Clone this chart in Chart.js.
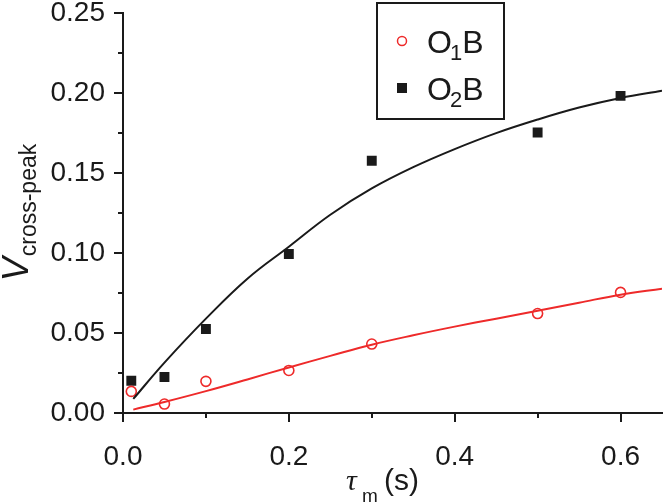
<!DOCTYPE html>
<html>
<head>
<meta charset="utf-8">
<script src="https://cdn.jsdelivr.net/npm/chart.js@4.4.1/dist/chart.umd.min.js"></script>
<style>
  html, body { margin: 0; padding: 0; background: #fff; }
</style>
</head>
<body>
<canvas id="chart" width="669" height="504"></canvas>
<script>
// measured points
const tau = [0.01, 0.05, 0.1, 0.2, 0.3, 0.5, 0.6];
const o1b = [0.0135, 0.0056, 0.0198, 0.0266, 0.0431, 0.0622, 0.0754];
const o2b = [0.0202, 0.0225, 0.0525, 0.0994, 0.1577, 0.1754, 0.1983];

// fit curves
const fitTau = [0.0124, 0.05, 0.1, 0.15, 0.2, 0.25, 0.3, 0.35, 0.4, 0.45, 0.5, 0.55, 0.6, 0.65];
const fitO1b = [0.0021, 0.0069, 0.0137, 0.021, 0.0285, 0.0357, 0.0427, 0.0486, 0.054, 0.059, 0.064, 0.069, 0.074, 0.0777];
const fitO2b = [0.0088, 0.0315, 0.059, 0.084, 0.104, 0.124, 0.1404, 0.1537, 0.165, 0.175, 0.1835, 0.191, 0.197, 0.2015];

const xMajor = [0, 0.2, 0.4, 0.6];
const xMinor = [0.1, 0.3, 0.5];
const yMajor = [0, 0.05, 0.1, 0.15, 0.2, 0.25];
const yMinor = [0.025, 0.075, 0.125, 0.175, 0.225];

const RED = "#ee2a2a";
const INK = "#1a1a1a";
const SANS = "'Liberation Sans', Arial, sans-serif";

const pts = (xs, ys) => xs.map((x, i) => ({ x: x, y: ys[i] }));

// ticks, axis titles and legend box
const decor = {
  id: "decor",
  afterDraw(chart) {
    const ctx = chart.ctx;
    const xs = chart.scales.x, ys = chart.scales.y;
    const left = chart.chartArea.left, bottom = chart.chartArea.bottom;
    ctx.save();
    ctx.strokeStyle = INK;
    ctx.lineWidth = 2;
    ctx.beginPath();
    xMajor.concat(xMinor).forEach(function (v) {
      const px = Math.round(xs.getPixelForValue(v));
      const len = xMajor.includes(v) ? 9 : 5;
      ctx.moveTo(px, bottom);
      ctx.lineTo(px, bottom + len);
    });
    yMajor.concat(yMinor).forEach(function (v) {
      const py = Math.round(ys.getPixelForValue(v));
      const len = yMajor.includes(v) ? 9 : 5;
      ctx.moveTo(left, py);
      ctx.lineTo(left - len, py);
    });
    ctx.stroke();

    ctx.fillStyle = INK;
    ctx.textBaseline = "alphabetic";
    ctx.textAlign = "left";

    // y title
    ctx.save();
    ctx.translate(28, 0);
    ctx.rotate(-Math.PI / 2);
    ctx.font = "italic 36px " + SANS;
    const wV = ctx.measureText("V").width;
    ctx.font = "23px " + SANS;
    const wSub = ctx.measureText("cross-peak").width;
    const start = -(213 + (wV + wSub) / 2);
    ctx.font = "italic 36px " + SANS;
    ctx.fillText("V", start, 0);
    ctx.font = "23px " + SANS;
    ctx.fillText("cross-peak", start + wV + 1, 8);
    ctx.restore();

    // x title
    ctx.font = "italic 30px 'Liberation Serif', serif";
    ctx.fillText("\u03c4", 346, 490);
    ctx.font = "19px " + SANS;
    ctx.fillText("m", 362, 502);
    ctx.font = "30px " + SANS;
    ctx.fillText("(s)", 384, 490);

    // legend
    ctx.lineWidth = 2;
    ctx.strokeStyle = INK;
    ctx.strokeRect(377, 3, 127, 116);
    const rows = [
      { sub: "1", y: 53, style: "circle" },
      { sub: "2", y: 100, style: "rect" }
    ];
    rows.forEach(function (r) {
      const cy = r.y - 12;
      if (r.style === "circle") {
        ctx.strokeStyle = RED;
        ctx.lineWidth = 1.5;
        ctx.beginPath();
        ctx.arc(402, cy, 4.5, 0, Math.PI * 2);
        ctx.stroke();
      } else {
        ctx.fillStyle = INK;
        ctx.fillRect(397, cy - 5, 10, 10);
      }
      ctx.fillStyle = INK;
      ctx.font = "32px " + SANS;
      ctx.fillText("O", 427, r.y);
      const wO = ctx.measureText("O").width;
      ctx.font = "22px " + SANS;
      ctx.fillText(r.sub, 427 + wO - 2, r.y + 7);
      const w1 = ctx.measureText(r.sub).width;
      ctx.font = "32px " + SANS;
      ctx.fillText("B", 427 + wO + w1 - 2, r.y);
    });
    ctx.restore();
  }
};

new Chart(document.getElementById("chart"), {
  type: "scatter",
  data: {
    datasets: [
      {
        label: "O1B fit",
        data: pts(fitTau, fitO1b),
        showLine: true,
        borderColor: RED,
        borderWidth: 2,
        pointRadius: 0,
        tension: 0.4
      },
      {
        label: "O2B fit",
        data: pts(fitTau, fitO2b),
        showLine: true,
        borderColor: INK,
        borderWidth: 2,
        pointRadius: 0,
        tension: 0.4
      },
      {
        label: "O1B",
        data: pts(tau, o1b),
        pointStyle: "circle",
        pointRadius: 5,
        borderColor: RED,
        backgroundColor: "#fff",
        borderWidth: 1.6
      },
      {
        label: "O2B",
        data: pts(tau, o2b),
        pointStyle: "rect",
        pointRadius: 7,
        borderColor: INK,
        backgroundColor: INK,
        borderWidth: 0
      }
    ]
  },
  options: {
    responsive: false,
    animation: false,
    layout: { padding: { left: 0, top: 13, right: 3, bottom: 0 } },
    plugins: {
      legend: { display: false },
      tooltip: { enabled: false }
    },
    scales: {
      x: {
        type: "linear",
        min: 0,
        max: 0.65,
        grid: { display: false, drawTicks: true, tickLength: 9 },
        border: { display: true, color: INK, width: 2 },
        ticks: {
          stepSize: 0.2,
          includeBounds: false,
          padding: 18,
          color: INK,
          font: { family: SANS, size: 28, lineHeight: 1.2 },
          callback: (v) => v.toFixed(1)
        },
        afterFit: (s) => { s.height = 91; }
      },
      y: {
        type: "linear",
        min: 0,
        max: 0.25,
        grid: { display: false, drawTicks: true, tickLength: 9 },
        border: { display: true, color: INK, width: 2 },
        ticks: {
          stepSize: 0.05,
          padding: 9,
          color: INK,
          font: { family: SANS, size: 28, lineHeight: 0.3 },
          callback: (v) => v.toFixed(2)
        },
        afterFit: (s) => { s.width = 123; }
      }
    }
  },
  plugins: [decor]
});
</script>
</body>
</html>
